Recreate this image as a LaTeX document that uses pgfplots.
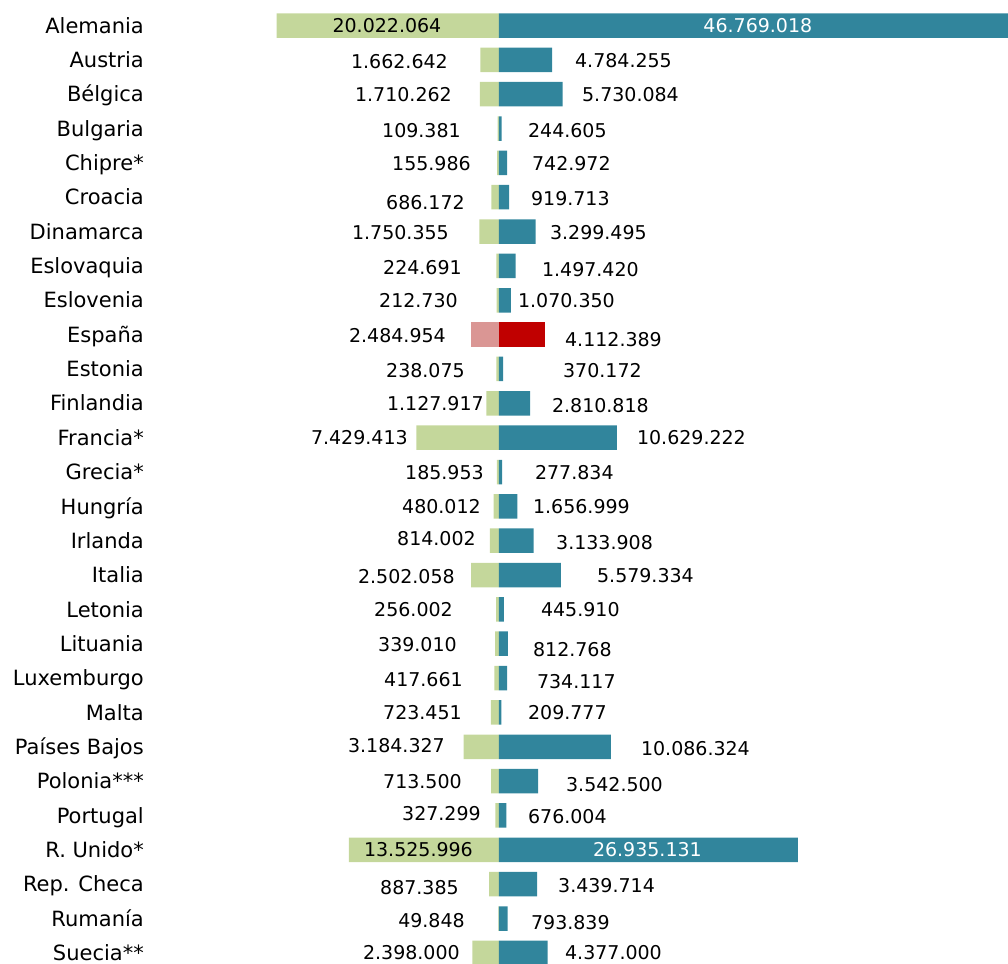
\documentclass[border=0pt]{standalone}
\usepackage{fontspec}
\setmainfont{DejaVu Sans}
\usepackage{pgfplots}
\pgfplotsset{compat=1.18}
\definecolor{verde}{HTML}{C4D79B}
\definecolor{azul}{HTML}{31859C}
\definecolor{rosa}{HTML}{DA9694}
\definecolor{rojo}{HTML}{C00000}
\newcommand{\numf}{\fontsize{19}{22}\selectfont}
\newcommand{\catf}{\fontsize{21}{25}\selectfont}
\begin{document}
\begin{tikzpicture}
\begin{axis}[
    scale only axis,
    width=858pt, height=964pt,
    xmin=-31.44, xmax=45.86,
    ymin=0.2576, ymax=28.322,
    y dir=reverse,
    axis line style={draw=none},
    major tick length=0pt,
    xtick=\empty,
    ytick={1,...,28},
    yticklabels={Alemania, Austria, Bélgica, Bulgaria, Chipre*, Croacia, Dinamarca,
        Eslovaquia, Eslovenia, España, Estonia, Finlandia, Francia*, Grecia*, Hungría,
        Irlanda, Italia, Letonia, Lituania, Luxemburgo, Malta, Países Bajos, Polonia***,
        Portugal, R. Unido*, Rep. Checa, Rumanía, Suecia**},
    yticklabel style={font=\catf, inner sep=0pt, text height=15.3pt, text depth=0pt, xshift=-6pt},
]
% valores en millones: izquierda (verde) y derecha (azul)
\addplot[xbar, bar width=24.5pt, bar shift=0pt, fill=verde, draw=none] coordinates {
    (-20.022064,1) (-1.662642,2) (-1.710262,3) (-0.109381,4) (-0.155986,5)
    (-0.686172,6) (-1.750355,7) (-0.224691,8) (-0.212730,9)
    (-0.238075,11) (-1.127917,12) (-7.429413,13) (-0.185953,14) (-0.480012,15)
    (-0.814002,16) (-2.502058,17) (-0.256002,18) (-0.339010,19) (-0.417661,20)
    (-0.723451,21) (-3.184327,22) (-0.713500,23) (-0.327299,24) (-13.525996,25)
    (-0.887385,26) (-0.049848,27) (-2.398000,28)};
\addplot[xbar, bar width=24.5pt, bar shift=0pt, fill=azul, draw=none] coordinates {
    (46.769018,1) (4.784255,2) (5.730084,3) (0.244605,4) (0.742972,5)
    (0.919713,6) (3.299495,7) (1.497420,8) (1.070350,9)
    (0.370172,11) (2.810818,12) (10.629222,13) (0.277834,14) (1.656999,15)
    (3.133908,16) (5.579334,17) (0.445910,18) (0.812768,19) (0.734117,20)
    (0.209777,21) (10.086324,22) (3.542500,23) (0.676004,24) (26.935131,25)
    (3.439714,26) (0.793839,27) (4.377000,28)};
% España
\addplot[xbar, bar width=24.5pt, bar shift=0pt, fill=rosa, draw=none] coordinates {(-2.484954,10)};
\addplot[xbar, bar width=24.5pt, bar shift=0pt, fill=rojo, draw=none] coordinates {(4.112389,10)};
% etiquetas a la izquierda
\addplot[sharp plot, draw=none, nodes near coords, point meta=explicit symbolic,
    nodes near coords style={anchor=east, font=\numf, inner sep=0pt, text height=13.9pt, text depth=0pt, text=black}]
coordinates {
    (-4.59,2.044) [1.662.642] (-4.23,3) [1.710.262] (-3.42,4.044) [109.381]
    (-2.52,5.029) [155.986] (-3.06,6.146) [686.172] (-4.50,7.029) [1.750.355]
    (-3.33,8.044) [224.691] (-3.69,9) [212.730] (-4.77,10.029) [2.484.954]
    (-3.06,11.044) [238.075] (-1.35,12) [1.127.917] (-8.20,13) [7.429.413]
    (-1.35,14.029) [185.953] (-1.62,15) [480.012] (-2.07,15.942) [814.002]
    (-3.96,17.058) [2.502.058] (-4.14,18.015) [256.002] (-3.78,19.029) [339.010]
    (-3.24,20.029) [417.661] (-3.33,21) [723.451] (-4.86,21.971) [3.184.327]
    (-3.33,23.015) [713.500] (-1.62,23.956) [327.299] (-3.60,26.087) [887.385]
    (-3.06,27.058) [49.848] (-3.51,28) [2.398.000]};
% etiquetas a la derecha
\addplot[sharp plot, draw=none, nodes near coords, point meta=explicit symbolic,
    nodes near coords style={anchor=west, font=\numf, inner sep=0pt, text height=13.9pt, text depth=0pt, text=black}]
coordinates {
    (6.85,2.029) [4.784.255] (7.48,3) [5.730.084] (2.61,4.044) [244.605]
    (2.97,5.029) [742.972] (2.88,6.029) [919.713] (4.59,7.029) [3.299.495]
    (3.87,8.116) [1.497.420] (1.71,9) [1.070.350] (5.95,10.146) [4.112.389]
    (5.77,11.044) [370.172] (4.77,12.058) [2.810.818] (12.43,13) [10.629.222]
    (3.24,14.029) [277.834] (3.06,15) [1.656.999] (5.14,16.044) [3.133.908]
    (8.83,17.029) [5.579.334] (3.78,18) [445.910] (3.06,19.175) [812.768]
    (3.42,20.087) [734.117] (2.61,21) [209.777] (12.79,22.058) [10.086.324]
    (6.04,23.102) [3.542.500] (2.61,24.044) [676.004] (5.32,26.029) [3.439.714]
    (2.88,27.116) [793.839] (5.95,28) [4.377.000]};
% etiquetas dentro de las barras
\addplot[sharp plot, draw=none, nodes near coords, point meta=explicit symbolic,
    nodes near coords style={anchor=center, font=\numf, inner sep=0pt, text height=13.9pt, text depth=0pt, text=black}]
coordinates {(-10.09,1) [20.022.064] (-7.25,25) [13.525.996]};
\addplot[sharp plot, draw=none, nodes near coords, point meta=explicit symbolic,
    nodes near coords style={anchor=center, font=\numf, inner sep=0pt, text height=13.9pt, text depth=0pt, text=white}]
coordinates {(23.33,1) [46.769.018] (13.38,25) [26.935.131]};
\end{axis}
\path ([xshift=-150pt]current axis.south west) rectangle (current axis.north east);
\end{tikzpicture}
\end{document}
